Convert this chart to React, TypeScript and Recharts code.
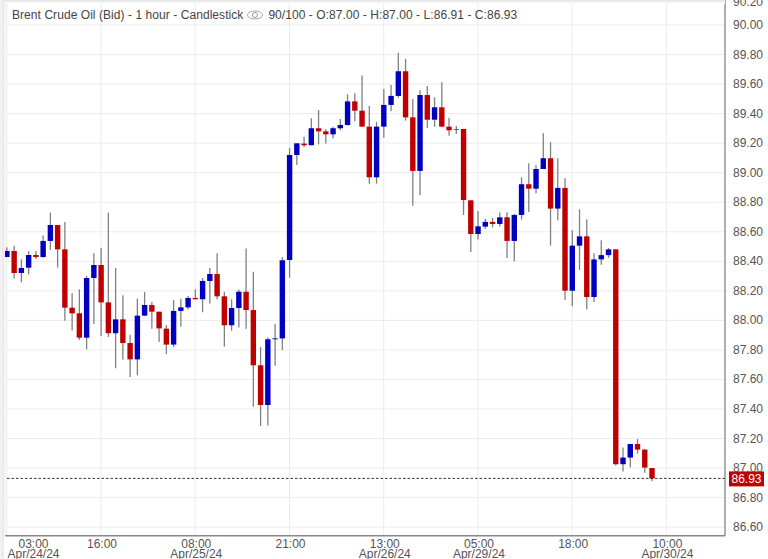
import {
  Bar,
  CartesianGrid,
  ComposedChart,
  ReferenceLine,
  XAxis,
  YAxis,
} from "recharts"

// hourly candles
const opens = [
  88.429, 88.47, 88.321, 88.357, 88.443, 88.429, 88.538, 88.646, 88.481, 88.086,
  88.048, 87.883, 88.287, 88.375, 88.122, 87.913, 88.007, 87.847, 87.736, 88.032,
  88.104, 88.059, 87.944, 87.836, 88.064, 88.088, 88.152, 88.143, 88.267, 88.314,
  88.163, 87.967, 88.084, 88.194, 88.07, 87.696, 87.427, 87.872, 87.878, 88.409,
  89.12, 89.197, 89.186, 89.301, 89.28, 89.26, 89.301, 89.323, 89.483, 89.42,
  89.312, 88.969, 89.312, 89.459, 89.52, 89.687, 89.375, 89.012, 89.526, 89.359,
  89.443, 89.312, 89.292, 89.296, 88.813, 88.585, 88.635, 88.667, 88.653, 88.698,
  88.538, 88.714, 88.922, 88.892, 89.025, 89.098, 88.757, 88.897, 88.201, 88.506,
  88.569, 88.158, 88.413, 88.442, 88.481, 87.026, 87.071, 87.163, 87.125, 87.0,
]
const highs = [
  88.495, 88.506, 88.414, 88.47, 88.47, 88.574, 88.73, 88.646, 88.666, 88.183,
  88.21, 88.301, 88.454, 88.49, 88.73, 88.355, 88.17, 87.903, 88.147, 88.192,
  88.127, 88.059, 87.969, 88.138, 88.147, 88.165, 88.21, 88.287, 88.355, 88.454,
  88.194, 88.143, 88.21, 88.486, 88.33, 87.82, 87.885, 87.976, 88.427, 89.167,
  89.199, 89.244, 89.368, 89.425, 89.294, 89.312, 89.364, 89.531, 89.538, 89.659,
  89.452, 89.344, 89.567, 89.594, 89.813, 89.77, 89.499, 89.558, 89.587, 89.511,
  89.612, 89.373, 89.317, 89.296, 88.813, 88.741, 88.687, 88.694, 88.732, 88.732,
  88.721, 88.969, 89.064, 89.052, 89.267, 89.208, 89.098, 88.962, 88.61, 88.752,
  88.684, 88.454, 88.542, 88.49, 88.481, 87.139, 87.163, 87.197, 87.125, 87.0,
]
const lows = [
  88.429, 88.283, 88.258, 88.31, 88.416, 88.425, 88.477, 88.357, 87.998, 87.931,
  87.867, 87.804, 87.976, 87.894, 87.888, 87.676, 87.734, 87.617, 87.628, 88.03,
  87.944, 87.856, 87.772, 87.82, 87.957, 88.075, 88.143, 88.055, 88.115, 88.143,
  87.824, 87.93, 87.951, 87.944, 87.416, 87.285, 87.289, 87.693, 87.799, 88.289,
  89.052, 89.172, 89.186, 89.192, 89.197, 89.233, 89.287, 89.319, 89.348, 89.31,
  88.926, 88.926, 89.237, 89.416, 89.508, 89.353, 88.777, 88.849, 89.305, 89.312,
  89.308, 89.251, 89.262, 88.714, 88.463, 88.547, 88.621, 88.63, 88.635, 88.423,
  88.398, 88.682, 88.734, 88.861, 89.025, 88.506, 88.678, 88.138, 88.095, 88.341,
  88.075, 88.124, 88.377, 88.424, 87.017, 86.976, 87.003, 87.098, 86.969, 86.91,
]
const closes = [
  88.47, 88.321, 88.355, 88.443, 88.429, 88.538, 88.646, 88.481, 88.086, 88.048,
  87.883, 88.287, 88.375, 88.122, 87.913, 88.007, 87.847, 87.736, 88.032, 88.104,
  88.059, 87.946, 87.836, 88.064, 88.088, 88.152, 88.143, 88.267, 88.314, 88.163,
  87.967, 88.084, 88.194, 88.07, 87.696, 87.427, 87.872, 87.878, 88.407, 89.12,
  89.199, 89.186, 89.301, 89.28, 89.26, 89.301, 89.323, 89.483, 89.42, 89.312,
  88.969, 89.312, 89.459, 89.52, 89.687, 89.375, 89.012, 89.526, 89.359, 89.443,
  89.312, 89.287, 89.296, 88.815, 88.585, 88.637, 88.667, 88.653, 88.698, 88.538,
  88.714, 88.922, 88.892, 89.025, 89.098, 88.757, 88.897, 88.201, 88.506, 88.569,
  88.158, 88.413, 88.442, 88.481, 87.026, 87.071, 87.163, 87.125, 87.003, 86.93,
]

const timeTicks = [0, 13, 26, 39, 52, 65, 78, 91]
const timeLabels = ["03:00", "16:00", "08:00", "21:00", "13:00", "05:00", "18:00", "10:00"]
const dateLabels = ["Apr/24/24", "", "Apr/25/24", "", "Apr/26/24", "Apr/29/24", "", "Apr/30/24"]
const priceTicks = [
  86.6, 86.8, 87.0, 87.2, 87.4, 87.6, 87.8, 88.0, 88.2, 88.4, 88.6, 88.8, 89.0,
  89.2, 89.4, 89.6, 89.8, 90.0, 90.2,
]
const lastPrice = 86.93

const FONT = '"Liberation Sans", Arial, sans-serif'
const TEXT = "#555"
const UP = "#0000c0"
const DOWN = "#c00000"

const chartData = opens.map((open, i) => ({
  i,
  open,
  high: highs[i],
  low: lows[i],
  close: closes[i],
  range: [lows[i], highs[i]],
}))

function Candle(props: any) {
  const { x, y, width, height, payload } = props
  const { open, close, high, low } = payload
  const perUnit = height / (high - low)
  const cx = x + width / 2
  const top = y + (high - Math.max(open, close)) * perUnit
  const h = Math.abs(open - close) * perUnit
  return (
    <g>
      <line x1={cx} x2={cx} y1={y} y2={y + height} stroke="#808080" strokeWidth={1.3} />
      <rect x={x} y={top} width={width} height={h} fill={close >= open ? UP : DOWN} />
    </g>
  )
}

function TimeTick({ x, payload }: any) {
  const idx = timeTicks.indexOf(payload.value)
  // first label is pushed right so it stays inside the chart
  const cx = Math.max(x + 1, 33.5)
  return (
    <g fontFamily={FONT} fontSize={12} fill={TEXT} textAnchor="middle">
      <text x={cx} y={557.8}>{timeLabels[idx]}</text>
      <text x={cx} y={568}>{dateLabels[idx]}</text>
    </g>
  )
}

function PriceTick({ x, y, payload }: any) {
  return (
    <text
      x={x}
      y={Math.max(y, 12)}
      dy={4}
      fontFamily={FONT}
      fontSize={12}
      fill={TEXT}
      textAnchor="start"
    >
      {payload.value.toFixed(2)}
    </text>
  )
}

function LastPriceLabel({ viewBox }: any) {
  const left = viewBox.x + viewBox.width + 4
  return (
    <g>
      <rect x={left} y={viewBox.y - 7} width={35} height={15} fill={DOWN} />
      <text
        x={left + 17.5}
        y={viewBox.y + 4.5}
        fontFamily={FONT}
        fontSize={12}
        fill="#fff"
        textAnchor="middle"
      >
        {lastPrice.toFixed(2)}
      </text>
    </g>
  )
}

export default function App() {
  return (
    <div
      style={{
        position: "absolute",
        left: 0,
        top: 0,
        width: 768,
        height: 559,
        overflow: "hidden",
        background: "#fff",
      }}
    >
      <div style={{ position: "absolute", left: 0, top: -10 }}>
        <ComposedChart
          width={768}
          height={569}
          data={chartData}
          margin={{ top: 5.5, right: 0, bottom: 0, left: 5 }}
        >
          <CartesianGrid stroke="#ececec" />
          <XAxis
            dataKey="i"
            type="number"
            domain={[-0.25, 99.08]}
            ticks={timeTicks}
            interval={0}
            height={23.3}
            tickLine={false}
            tick={<TimeTick />}
            axisLine={{ stroke: "#888", strokeWidth: 1.5 }}
            allowDataOverflow
          />
          <YAxis
            orientation="right"
            type="number"
            domain={[86.542, 90.2]}
            ticks={priceTicks}
            interval={0}
            width={43}
            tickLine={false}
            tickSize={0}
            tickMargin={8}
            tick={<PriceTick />}
            axisLine={{ stroke: "#666" }}
            allowDataOverflow
          />
          <Bar
            dataKey="range"
            barSize={5.4}
            shape={<Candle />}
            isAnimationActive={false}
          />
          <ReferenceLine
            y={lastPrice}
            stroke="#333"
            strokeDasharray="2.5 2"
            label={<LastPriceLabel />}
          />
        </ComposedChart>
      </div>

      {/* shadow strips along the top and left edges */}
      <div
        style={{
          position: "absolute",
          left: 0,
          top: 0,
          width: 725,
          height: 4,
          background: "linear-gradient(#e4e4e4, #fff)",
        }}
      />
      <div
        style={{
          position: "absolute",
          left: 0,
          top: 0,
          width: 4,
          height: 559,
          background: "linear-gradient(90deg, #f4f4f4, #e8e8e8)",
        }}
      />

      <div
        style={{
          position: "absolute",
          left: 12,
          top: 8,
          display: "flex",
          alignItems: "center",
          fontFamily: FONT,
          fontSize: 12,
          lineHeight: "14px",
          letterSpacing: 0.06,
          color: "#444",
          whiteSpace: "nowrap",
        }}
      >
        <span>Brent Crude Oil (Bid) - 1 hour - Candlestick</span>
        <svg width={16} height={12} style={{ margin: "0 5px 0 4px" }}>
          <ellipse cx={8} cy={6} rx={7.5} ry={4} fill="none" stroke="#aaa" />
          <circle cx={8} cy={6} r={2.5} fill="none" stroke="#999" />
        </svg>
        <span>90/100 - O:87.00 - H:87.00 - L:86.91 - C:86.93</span>
      </div>
    </div>
  )
}
